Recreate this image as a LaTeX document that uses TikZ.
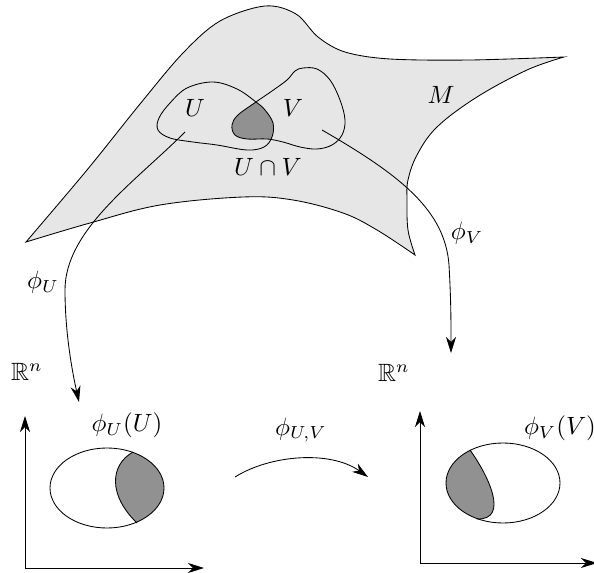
\documentclass[tikz,border=0pt]{standalone}
\usepackage{amssymb}
\usetikzlibrary{arrows.meta}
\definecolor{mfill}{RGB}{230,230,230}
\definecolor{dfill}{RGB}{145,145,145}
\begin{document}
\begin{tikzpicture}[x=0.4pt,y=-0.4pt,line width=0.34pt,
  lab/.style={inner sep=0pt},
  maparrow/.style={-{Stealth[length=6.4pt,width=4pt,inset=2pt]}},
  axisline/.style={-{Stealth[length=6.4pt,width=4pt,inset=2pt]}}]
\useasboundingbox (0,0) rectangle (594,573);

% manifold M
\filldraw[fill=mfill,draw=black]
  (26,242) -- plot[smooth,tension=0.55] coordinates {(26,242) (87,170) (140,104) (183,53) (220,21) (265,6) (296,14) (318,37) (345,52) (390,59) (470,60) (564,57)}
  -- plot[smooth,tension=0.6] coordinates {(564,57) (527,70) (477,97) (437,127) (417,155) (408,180) (407,200) (408,230) (415,255)}
  -- plot[smooth,tension=0.6] coordinates {(415,255) (377,230) (343,213) (293,200) (243,197) (160,205) (90,223) (26,242)}
  -- cycle;

% U and V blobs
\def\Ublob{plot[smooth cycle,tension=0.6] coordinates {(158,130) (170,138) (193,142) (217,145) (247,150) (264,147) (272,137) (273,123) (265,110) (256,102) (237,89) (213,82) (187,88) (170,103) (159,118)}}
\def\Vblob{plot[smooth cycle,tension=0.6] coordinates {(256,102) (272,91) (287,80) (295,71) (303,68) (317,69) (330,80) (340,100) (345,120) (342,135) (332,145) (317,149) (300,147) (283,142) (267,139) (247,139) (235,135) (232,125) (238,115)}}
\begin{scope}
  \clip \Ublob;
  \fill[dfill] \Vblob;
\end{scope}
\draw \Ublob;
\draw \Vblob;

% labels on M
\node[lab] (U) at (195,108) {$U$};
\node[lab] (V) at (293,108) {$V$};
\node[lab] (UV) at (268,167) {$U\cap V$};
\node[lab] (M) at (441,95) {$M$};

% chart maps
\coordinate (pu0) at (185,132);
\coordinate (pu1) at (65,290);
\coordinate (pu2) at (79,402);
\coordinate (pv0) at (322,130);
\coordinate (pv1) at (449,265);
\coordinate (pv2) at (451,353);
\draw[maparrow] (pu0) .. controls (135,182) and (65,230) .. (pu1) .. controls (65,335) and (73,375) .. (pu2);
\draw[maparrow] (pv0) .. controls (400,175) and (445,210) .. (pv1) .. controls (451,300) and (451,320) .. (pv2);
\node[lab] (phiU) at (43,282) {$\phi_U$};
\node[lab] (phiV) at (467,233) {$\phi_V$};
\node[lab] (R1) at (27,372) {$\mathbb{R}^n$};
\node[lab] (R2) at (394,373) {$\mathbb{R}^n$};

% left chart
\coordinate (o1) at (25,568);
\coordinate (y1) at (25,416);
\coordinate (x1) at (204,568);
\draw[axisline] (o1) -- (y1);
\draw[axisline] (o1) -- (x1);
\begin{scope}
  \clip (107,488) ellipse [x radius=57,y radius=40];
  \fill[dfill] (133,452) .. controls (110,465) and (108,495) .. (137,523) -- (180,540) -- (180,430) -- cycle;
\end{scope}
\draw (133,452) .. controls (110,465) and (108,495) .. (137,523);
\draw (107,488) ellipse [x radius=57,y radius=40];
\node[lab] (phiUU) at (127,425) {$\phi_U(U)$};

% transition map
\coordinate (t0) at (235,477);
\coordinate (t1) at (368,477);
\draw[maparrow] (t0) .. controls (270,455) and (330,450) .. (t1);
\node[lab] (phiUV) at (301,430) {$\phi_{U,V}$};

% right chart
\coordinate (o2) at (420,563);
\coordinate (y2) at (420,411);
\coordinate (x2) at (597,563);
\draw[axisline] (o2) -- (y2);
\draw[axisline] (o2) -- (x2);
\begin{scope}
  \clip (503,483) ellipse [x radius=57,y radius=40];
  \fill[dfill] (470,450) .. controls (488,475) and (510,520) .. (477,519) -- (440,540) -- (440,430) -- cycle;
\end{scope}
\draw (470,450) .. controls (488,475) and (510,520) .. (477,519);
\draw (503,483) ellipse [x radius=57,y radius=40];
\node[lab] (phiVV) at (560,428) {$\phi_V(V)$};
\end{tikzpicture}
\end{document}
